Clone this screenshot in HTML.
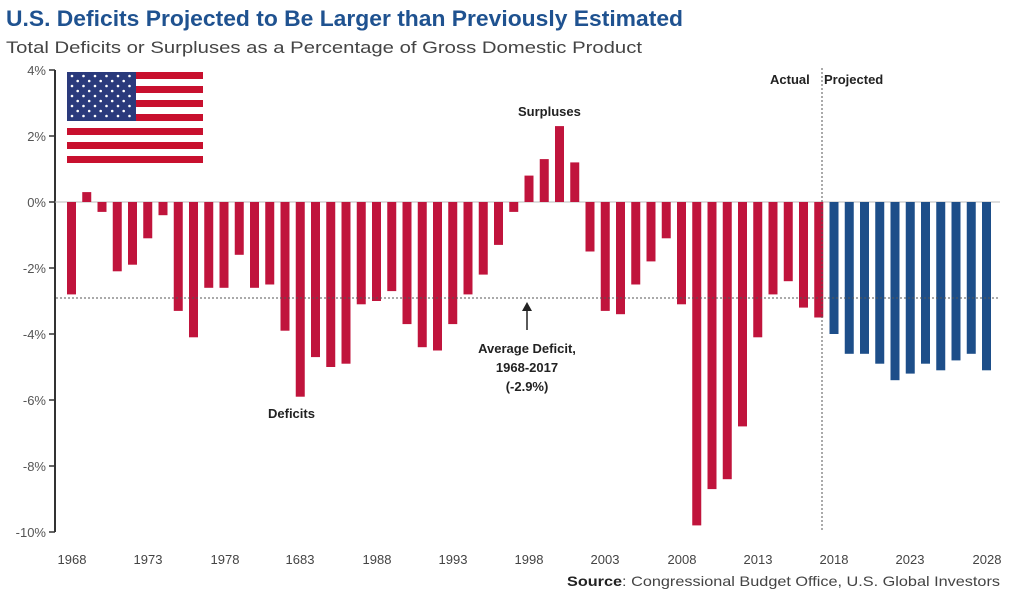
<!DOCTYPE html>
<html><head><meta charset="utf-8"><style>
body{margin:0;background:#fff;width:1024px;height:598px;overflow:hidden;font-family:"Liberation Sans",sans-serif}
</style></head><body>
<svg id="s" width="1024" height="598" xmlns="http://www.w3.org/2000/svg" font-family="Liberation Sans, sans-serif">
<text x="6" y="26" font-size="22" font-weight="bold" fill="#1f5290" textLength="677" lengthAdjust="spacingAndGlyphs">U.S. Deficits Projected to Be Larger than Previously Estimated</text>
<text x="6" y="53" font-size="17" fill="#444" textLength="636" lengthAdjust="spacingAndGlyphs">Total Deficits or Surpluses as a Percentage of Gross Domestic Product</text>
<g id="flag"></g>
<line x1="55" y1="70" x2="55" y2="532" stroke="#333" stroke-width="2"/>
<g stroke="#333" stroke-width="1.5">
<line x1="49" y1="70" x2="55" y2="70"/><line x1="49" y1="136" x2="55" y2="136"/><line x1="49" y1="202" x2="55" y2="202"/><line x1="49" y1="268" x2="55" y2="268"/><line x1="49" y1="334" x2="55" y2="334"/><line x1="49" y1="400" x2="55" y2="400"/><line x1="49" y1="466" x2="55" y2="466"/><line x1="49" y1="532" x2="55" y2="532"/>
</g>
<line x1="55" y1="202" x2="1000" y2="202" stroke="#bbb" stroke-width="1"/>
<g font-size="13" fill="#555" text-anchor="end">
<text x="46" y="75">4%</text><text x="46" y="141">2%</text><text x="46" y="207">0%</text><text x="46" y="273">-2%</text><text x="46" y="339">-4%</text><text x="46" y="405">-6%</text><text x="46" y="471">-8%</text><text x="46" y="537">-10%</text>
</g>
<g id="bars"></g>
<line x1="56" y1="298" x2="1000" y2="298" stroke="#555" stroke-width="1" stroke-dasharray="2,2"/>
<line x1="822" y1="68" x2="822" y2="532" stroke="#555" stroke-width="1" stroke-dasharray="2,2"/>
<g font-size="13" fill="#222" font-weight="bold">
<text x="770" y="84">Actual</text><text x="824" y="84">Projected</text>
<text x="518" y="116">Surpluses</text>
<text x="268" y="418">Deficits</text>
<text x="527" y="353" text-anchor="middle">Average Deficit,</text>
<text x="527" y="372" text-anchor="middle">1968-2017</text>
<text x="527" y="391" text-anchor="middle">(-2.9%)</text>
</g>
<line x1="527" y1="330" x2="527" y2="306" stroke="#222" stroke-width="1.5"/>
<polygon points="527,302 522,311 532,311" fill="#222"/>
<g font-size="13" fill="#444" text-anchor="middle">
<text x="72" y="564">1968</text><text x="148" y="564">1973</text><text x="225" y="564">1978</text><text x="300" y="564">1683</text><text x="377" y="564">1988</text><text x="453" y="564">1993</text><text x="529" y="564">1998</text><text x="605" y="564">2003</text><text x="682" y="564">2008</text><text x="758" y="564">2013</text><text x="834" y="564">2018</text><text x="910" y="564">2023</text><text x="987" y="564">2028</text>
</g>
<text x="567" y="586" font-size="14" fill="#444" textLength="433" lengthAdjust="spacingAndGlyphs"><tspan font-weight="bold" fill="#222">Source</tspan>: Congressional Budget Office, U.S. Global Investors</text>
</svg>
<script>
var v=[-2.8,0.3,-0.3,-2.1,-1.9,-1.1,-0.4,-3.3,-4.1,-2.6,-2.6,-1.6,-2.6,-2.5,-3.9,-5.9,-4.7,-5.0,-4.9,-3.1,-3.0,-2.7,-3.7,-4.4,-4.5,-3.7,-2.8,-2.2,-1.3,-0.3,0.8,1.3,2.3,1.2,-1.5,-3.3,-3.4,-2.5,-1.8,-1.1,-3.1,-9.8,-8.7,-8.4,-6.8,-4.1,-2.8,-2.4,-3.2,-3.5,-4.0,-4.6,-4.6,-4.9,-5.4,-5.2,-4.9,-5.1,-4.8,-4.6,-5.1];
var ns="http://www.w3.org/2000/svg",g=document.getElementById("bars");
function r(p,x,y,w,h,f){var e=document.createElementNS(ns,"rect");e.setAttribute("x",x);e.setAttribute("y",y);e.setAttribute("width",w);e.setAttribute("height",h);e.setAttribute("fill",f);p.appendChild(e);}
v.forEach(function(d,i){var cx=71.5+i*15.25,h=Math.abs(d)*33;r(g,cx-4.5,d<0?202:202-h,9,h,i<50?"#c0143c":"#1d4e89");});
var f=document.getElementById("flag");
for(var k=0;k<13;k++)r(f,67,72+k*7,136,7,k%2?"#fff":"#c8102e");
r(f,67,72,69,49,"#2a3a7c");
for(var a=0;a<9;a++)for(var b=0;b<(a%2?5:6);b++){var c=document.createElementNS(ns,"circle");c.setAttribute("cx",72+b*11.5+(a%2?5.7:0));c.setAttribute("cy",76+a*5);c.setAttribute("r",1.3);c.setAttribute("fill","#fff");f.appendChild(c);}
</script>
</body></html>
